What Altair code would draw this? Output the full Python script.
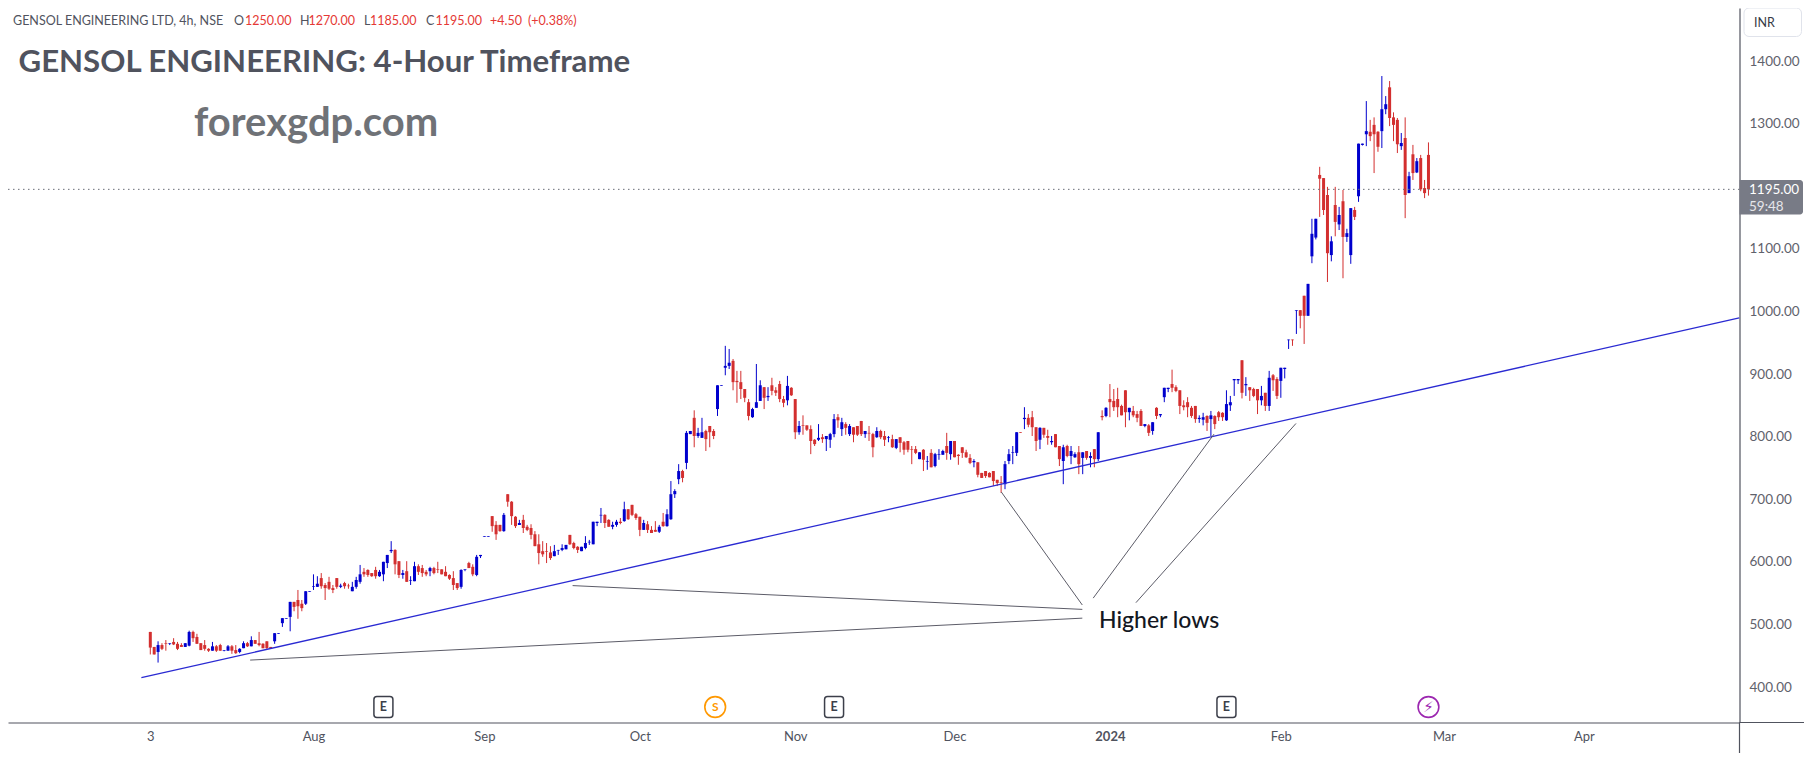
import altair as alt
import pandas as pd

# (open, high, low, close), grouped by month
candles_jul = [
(488,488,452,463),(464,464,452,452),(456,473,439,467),(467,470,459,461),(470,475,458,469),(469,470,467,470),
(472,478,467,468),(469,472,459,461),(467,470,464,464),(464,470,464,470),(466,490,465,488),(488,490,472,478),
(480,485,469,469),(470,470,459,459),(467,475,458,461),(461,462,456,458),(458,472,458,465),(465,467,456,458),
(467,469,458,458),(458,459,457,459),(458,467,458,465),(465,467,453,458),(459,467,453,454),(456,462,454,461),
(462,473,462,470),(470,472,464,465),(465,481,465,475),(475,475,469,469),(470,488,465,467),(469,470,462,462),
(473,473,461,462),(464,464,461,462),(473,486,469,486),(485,486,485,486),(502,510,496,510),(509,510,509,510),
(512,536,489,536),(536,536,521,528),(539,555,509,529),(533,539,521,526),(533,553,531,553),(552,553,552,553),
]
candles_aug = [
(560,580,555,561),(560,577,560,565),(574,582,557,561),(563,566,539,558),(568,576,555,557),(558,563,550,555),
(574,574,557,560),(560,565,558,562),(566,568,557,561),(562,565,557,561),(553,568,553,560),(560,576,557,571),
(568,595,565,580),(584,590,576,580),(587,588,576,579),(582,582,576,577),(587,592,573,577),(577,587,576,584),
(580,600,569,600),(598,611,590,611),(617,633,614,619),(619,620,580,596),(601,601,574,579),(579,587,573,582),
(585,601,568,568),(570,577,563,571),(569,600,569,593),(593,596,579,584),(590,595,576,582),(584,587,577,580),
(585,592,577,590),(590,592,580,582),(588,600,582,587),(588,588,580,580),(584,593,577,577),(579,580,571,573),
(574,585,555,563),(566,566,555,558),(560,588,557,587),(587,588,585,588),(598,600,590,590),(592,596,577,580),
(579,611,577,608),(609,611,606,611),
]
candles_sep = [
(640,641,640,641),(640,641,640,641),(673,673,648,657),(659,665,635,644),(659,659,648,649),(649,678,648,675),
(708,708,688,696),(696,697,659,673),(672,673,654,657),(659,667,659,662),(667,675,646,654),(656,659,649,651),
(654,660,636,643),(644,649,625,625),(628,644,596,614),(617,633,608,612),(617,630,598,616),(615,625,603,606),
(609,627,609,617),(618,619,611,619),(619,628,617,622),(620,627,620,627),(643,643,627,628),(630,632,620,622),
(624,625,614,619),(617,624,617,624),(622,641,620,630),(631,635,627,632),(628,664,628,664),(662,664,657,664),
(674,686,662,675),(675,676,654,662),(667,668,656,656),(656,664,652,659),(659,667,656,664),(664,670,660,662),
(665,696,664,684),(684,684,667,668),(691,691,673,675),(676,678,667,670),
]
candles_oct = [
(672,672,641,651),(651,667,651,662),(660,665,646,651),(651,657,646,646),(651,665,648,648),(648,659,646,656),
(664,678,656,657),(657,684,656,676),(668,729,667,708),(708,716,702,713),(732,756,724,745),(745,747,727,734),
(758,809,748,806),(804,809,804,809),(830,842,783,801),(801,814,798,806),(798,830,798,807),(809,811,777,796),
(817,817,783,807),(809,812,796,801),(844,882,833,882),(881,882,881,882),(910,945,898,913),(913,940,908,918),
(921,924,874,887),(889,905,854,887),(887,905,860,876),(876,876,855,862),(855,860,826,833),(831,846,830,844),
(846,916,846,855),(857,890,857,882),(879,879,844,862),(863,879,857,865),(882,894,866,873),(874,879,865,870),
(884,889,855,860),(860,865,847,854),(858,897,850,881),(878,879,865,866),
]
candles_nov = [
(860,860,796,807),(807,825,803,817),(818,834,803,817),(818,818,809,811),(812,818,772,793),(795,796,785,788),
(795,820,793,798),(799,804,790,796),(796,801,777,801),(795,806,782,804),(804,836,799,828),(831,836,814,826),
(812,830,801,823),(820,823,803,814),(804,820,801,817),(815,815,791,803),(817,817,801,803),(825,825,801,804),
(804,809,798,809),(806,817,793,805),(804,806,767,783),(799,815,798,809),(809,811,796,799),(801,809,785,795),
(798,801,791,799),(796,803,782,783),(782,796,780,796),(799,799,775,790),(791,793,771,779),(793,793,775,779),
(780,785,756,779),(780,785,772,774),(764,775,764,775),(779,780,745,763),(760,769,747,761),(774,780,751,751),
(753,774,751,772),(771,780,763,772),(771,779,771,777),(785,806,763,774),(772,793,763,793),
]
candles_dec = [
(793,793,767,767),(771,772,755,769),(783,783,766,774),(775,779,766,767),(766,772,756,758),(759,764,751,761),
(759,759,735,739),(742,742,734,734),(745,745,734,737),(742,743,735,735),(745,745,721,729),(731,731,721,726),
(727,737,710,726),(724,761,716,756),(761,780,756,772),(774,785,756,775),(774,807,769,807),(807,807,806,806),
(828,847,812,830),(830,836,815,819),(831,841,801,815),(815,815,777,793),(795,815,780,814),(814,814,798,803),
(801,811,787,798),(791,801,787,793),(804,804,783,783),(785,785,753,764),(761,787,724,783),(785,787,767,769),
(769,785,756,777),(767,775,766,772),(775,785,740,756),(766,775,740,775),(777,777,763,766),(766,775,751,769),
(780,780,751,764),(764,807,761,807),(833,842,826,831),(833,847,831,846),
]
candles_jan = [
(860,884,831,855),(857,876,841,847),(860,878,831,847),(849,851,834,834),(874,874,815,839),(839,846,826,846),
(841,849,831,834),(836,841,823,830),(841,844,817,817),(817,820,815,820),(818,820,801,806),(809,823,803,823),
(846,847,828,833),(834,836,831,836),(863,878,855,878),(876,878,871,878),(884,907,871,878),(879,882,871,873),
(874,874,836,849),(850,858,842,847),(855,863,831,847),(846,849,830,833),(849,849,822,828),(828,834,822,830),
(827,838,818,831),(833,834,809,822),(828,841,801,834),(833,834,812,820),(839,841,825,831),(838,839,825,831),
(826,874,825,852),(850,865,841,855),(890,892,865,892),(890,892,884,892),(922,922,861,870),(882,895,865,884),
(879,879,857,874),(876,878,863,865),(876,876,836,858),(858,881,850,865),(870,870,841,849),(849,905,841,894),
(898,900,873,890),(892,895,860,865),
]
candles_feb = [
(889,910,862,910),(908,910,893,910),(954,955,940,955),(955,955,945,954),(1001,1002,964,1002),(1002,1002,973,993),
(1025,1025,948,993),(993,1044,993,1044),(1088,1148,1077,1124),(1118,1148,1115,1148),(1218,1231,1151,1212),
(1213,1213,1154,1162),(1186,1199,1047,1093),(1090,1120,1080,1112),(1170,1199,1120,1143),(1139,1167,1130,1154),
(1176,1194,1053,1119),(1119,1132,1111,1125),(1090,1165,1076,1165),(1162,1167,1146,1151),(1184,1268,1175,1268),
(1266,1268,1265,1268),(1283,1336,1264,1288),(1287,1306,1272,1280),(1298,1310,1221,1283),(1287,1288,1255,1263),
(1288,1376,1261,1323),(1323,1344,1315,1331),(1358,1368,1296,1309),(1310,1318,1272,1298),(1306,1309,1253,1267),
(1264,1285,1258,1269),(1277,1310,1149,1186),(1189,1223,1189,1216),(1251,1266,1210,1221),(1222,1245,1221,1240),
(1245,1250,1192,1195),(1197,1210,1181,1189),(1250,1270,1185,1195),
]

price_ticks = [400, 500, 600, 700, 800, 900, 1000, 1100, 1200, 1300, 1400]
time_tick_bars = [1, 43, 87, 127, 167, 208, 248, 292, 334, 370]
time_tick_labels = ["3", "Aug", "Sep", "Oct", "Nov", "Dec", "2024", "Feb", "Mar", "Apr"]
last_price = 1195

# trend line and annotation leaders: bar, price -> bar, price
trend_line = [(-1.3, 415, 410, 989.5)]
leaders = [
    (220.05, 711.5, 240.9, 531),
    (274.8, 804, 243.7, 542),
    (295.9, 821, 254.7, 534.7),
    (109.7, 562, 240.9, 524),
    (26.7, 443, 240.9, 510),
]
earnings_bars = [61, 177, 278]
split_bars = [146.4]
flash_bars = [330]

months = [candles_jul, candles_aug, candles_sep, candles_oct,
          candles_nov, candles_dec, candles_jan, candles_feb]
rows = [c for m in months for c in m]
df = pd.DataFrame(rows, columns=["o", "h", "l", "c"])
df["bar"] = range(1, len(df) + 1)
df["dir"] = ["up" if c >= o else "down" for o, c in zip(df["o"], df["c"])]
df["top"] = df[["o", "c"]].max(axis=1)
df["bot"] = df[["o", "c"]].min(axis=1)

BLUE, RED = "#0000cd", "#d32f2f"
AXIS = "#50535e"
FONT = "Lato"
W, H = 1731.5, 714.5

xs = alt.Scale(domain=[-35.63, 410.06], nice=False, zero=False, padding=0)
ys = alt.Scale(domain=[343.3, 1484.7], nice=False, zero=False)
col = alt.Color("dir:N", scale=alt.Scale(domain=["up", "down"], range=[BLUE, RED]), legend=None)

label_expr = "{}[indexof({}, datum.value)]".format(time_tick_labels, time_tick_bars)
x_axis = alt.Axis(values=time_tick_bars, labelExpr=label_expr, title=None, grid=False, ticks=False,
                  domainColor=AXIS, domainWidth=1.2, labelColor=AXIS, labelFont=FONT, labelFontSize=13,
                  labelPadding=8, labelFlush=False, labelOverlap=False,
                  labelFontWeight={"condition": {"test": "datum.value === 248", "value": "bold"}, "value": "normal"})
y_axis = alt.Axis(orient="right", values=price_ticks, format=".2f", title=None, grid=False, ticks=False,
                  domainColor=AXIS, domainWidth=1.2, labelColor="#5f626c", labelFont=FONT, labelFontSize=13.5,
                  labelPadding=9.5, labelAlign="left", labelOverlap=False)

base = alt.Chart(df)
wicks = base.mark_rule(strokeWidth=1).encode(
    x=alt.X("bar:Q", scale=xs, axis=x_axis), y=alt.Y("l:Q", scale=ys, axis=y_axis), y2="h:Q", color=col)
bodies = base.mark_bar(size=3).encode(
    x=alt.X("bar:Q", scale=xs), y=alt.Y("bot:Q", scale=ys), y2="top:Q", color=col)

dotted = alt.Chart(pd.DataFrame({"p": [last_price]})).mark_rule(
    color="#6b6e78", strokeDash=[1.5, 3.5], strokeWidth=1).encode(y=alt.Y("p:Q", scale=ys))

def segs(items, color, width):
    d = pd.DataFrame(items, columns=["a", "p", "b", "q"])
    return alt.Chart(d).mark_rule(color=color, strokeWidth=width).encode(
        x=alt.X("a:Q", scale=xs), y=alt.Y("p:Q", scale=ys), x2="b:Q", y2="q:Q")

trend = segs(trend_line, "#2a2ad2", 1.3)
lead = segs(leaders, "#5c5c68", 1)

def txt(text, x, y, size, color, weight="normal", align="left", font=FONT):
    return alt.Chart().mark_text(text=text, align=align, baseline="middle", fontSize=size, color=color,
                                 fontWeight=weight, font=font).encode(x=alt.value(x - 8), y=alt.value(y - 8))

GREY, TXTRED = "#50535e", "#e53935"
header = [
    ("GENSOL ENGINEERING LTD, 4h, NSE", 13, GREY), ("O", 234, GREY), ("1250.00", 245, TXTRED),
    ("H", 300, GREY), ("1270.00", 308.5, TXTRED), ("L", 364, GREY), ("1185.00", 370, TXTRED),
    ("C", 426, GREY), ("1195.00", 435.5, TXTRED), ("+4.50", 490, TXTRED), ("(+0.38%)", 528, TXTRED),
]
texts = [txt(t, x, 21, 12.5, c) for t, x, c in header]
texts += [
    txt("GENSOL ENGINEERING: 4-Hour Timeframe", 18.5, 63, 31.2, "#50535e", "bold"),
    txt("forexgdp.com", 194, 123.5, 40, "#6f7277", "bold"),
    txt("Higher lows", 1099, 620.5, 23, "#131722", 500),
]

vline = alt.Chart().mark_rule(color=AXIS, strokeWidth=1.2).encode(
    x=alt.value(W), y=alt.value(H), y2=alt.value(745))
hline = alt.Chart().mark_rule(color=AXIS, strokeWidth=1.2).encode(
    x=alt.value(W), x2=alt.value(1796), y=alt.value(H))

badge = alt.Chart().mark_rect(color="#787b86", cornerRadiusTopRight=3, cornerRadiusBottomRight=3).encode(
    x=alt.value(W), x2=alt.value(1803 - 8), y=alt.value(180 - 8), y2=alt.value(214.5 - 8))
badge_t = [txt("1195.00", 1749, 190, 13.5, "#ffffff"), txt("59:48", 1749, 206.5, 13.5, "#e6e6ea")]
inr_box = alt.Chart().mark_rect(fill="#ffffff", stroke="#e0e3eb", cornerRadius=5).encode(
    x=alt.value(1744 - 8), x2=alt.value(1801.5 - 8), y=alt.value(8 - 8), y2=alt.value(36.5 - 8))
inr = txt("INR", 1754, 23, 12.5, "#363a45")

ICON_Y = 707 - 8
ed = pd.DataFrame({"bar": earnings_bars, "t": ["E"] * len(earnings_bars)})
e_box = alt.Chart(ed).mark_rect(width=19, height=21, cornerRadius=3, fill="#ffffff", stroke="#3c3f4a",
                                strokeWidth=1.5).encode(x=alt.X("bar:Q", scale=xs), y=alt.value(ICON_Y))
e_txt = alt.Chart(ed).mark_text(fontSize=12.5, fontWeight="bold", color="#3c3f4a", font=FONT).encode(
    x=alt.X("bar:Q", scale=xs), y=alt.value(ICON_Y), text="t:N")
def badge_icon(bars, sym, color, font, size):
    d = pd.DataFrame({"bar": bars, "t": [sym] * len(bars)})
    ring = alt.Chart(d).mark_point(shape="circle", size=430, filled=False, stroke=color, strokeWidth=1.6,
                                   opacity=1).encode(x=alt.X("bar:Q", scale=xs), y=alt.value(ICON_Y))
    t = alt.Chart(d).mark_text(fontSize=size, fontWeight="bold", color=color, font=font).encode(
        x=alt.X("bar:Q", scale=xs), y=alt.value(ICON_Y), text="t:N")
    return [ring, t]

layers = [wicks, bodies, dotted, trend, lead, vline, hline, badge, inr_box, inr, e_box, e_txt]
layers += badge_icon(split_bars, "S", "#ff9800", FONT, 12)
layers += badge_icon(flash_bars, "\u26a1", "#9c27b0", "DejaVu Sans", 15)
layers += badge_t + texts

chart = alt.layer(*layers).properties(
    width=W, height=H,
    autosize=alt.AutoSizeParams(type="none"),
    padding={"left": 0, "top": 0, "right": 64.5, "bottom": 30},
    background="#ffffff",
).configure_view(stroke=None)

chart.save("out.html", embed_options={"renderer": "svg", "actions": False})
